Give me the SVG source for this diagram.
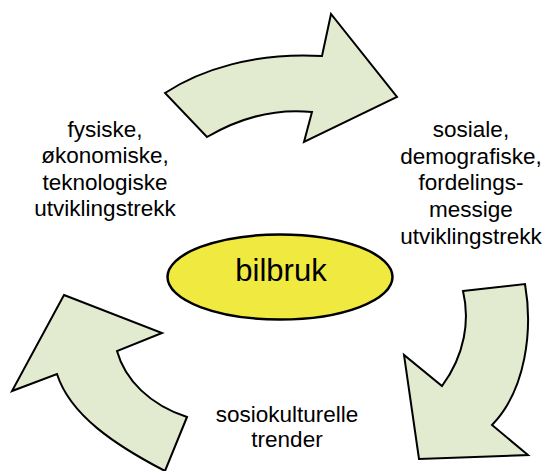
<svg xmlns="http://www.w3.org/2000/svg" width="544" height="471" viewBox="0 0 544 471">
<style>
.arrow{fill:#E2EBCF;stroke:#000;stroke-width:2;stroke-linejoin:miter}
.lbl{font-family:"Liberation Sans",Arial,sans-serif;font-size:22.5px;fill:#000;text-anchor:middle}
.hub{fill:#EFE940;stroke:#000;stroke-width:2.5}
</style>
<rect width="544" height="471" fill="#fff"/>
<g id="connectors">
<path id="arrow-top" class="arrow" d="M165,93 C200,70 255,52 322,56 L331,14 L397,97 L304,142 L312,112 C272,108 236,120 207,137 Z"/>
<path id="arrow-right" class="arrow" d="M463,291 L525,284 C533,330 526,390 492,425 L528,455 L419,459 L404,355 L442,386 C465,355 470,320 463,291 Z"/>
<path id="arrow-left" class="arrow" d="M64,295 L162,333 L117,351 C125,380 150,405 187,417 L165,471 C115,445 70,415 57,374 L12,391 Z"/>
</g>
<g id="node-bilbruk">
<ellipse class="hub" cx="280" cy="277" rx="112.5" ry="42.5"/>
<text x="281" y="281" font-family="Liberation Sans, Arial, sans-serif" font-size="31" text-anchor="middle">bilbruk</text>
</g>
<g id="node-left">
<text class="lbl" x="105" y="137">fysiske,</text>
<text class="lbl" x="105" y="163.3">økonomiske,</text>
<text class="lbl" x="105" y="189.6">teknologiske</text>
<text class="lbl" x="105" y="216">utviklingstrekk</text>
</g>
<g id="node-right">
<text class="lbl" x="471" y="137">sosiale,</text>
<text class="lbl" x="471" y="163.7">demografiske,</text>
<text class="lbl" x="471" y="190.4">fordelings-</text>
<text class="lbl" x="471" y="217.1">messige</text>
<text class="lbl" x="471" y="244">utviklingstrekk</text>
</g>
<g id="node-bottom">
<text class="lbl" x="287" y="421.5">sosiokulturelle</text>
<text class="lbl" x="287" y="447">trender</text>
</g>
</svg>
